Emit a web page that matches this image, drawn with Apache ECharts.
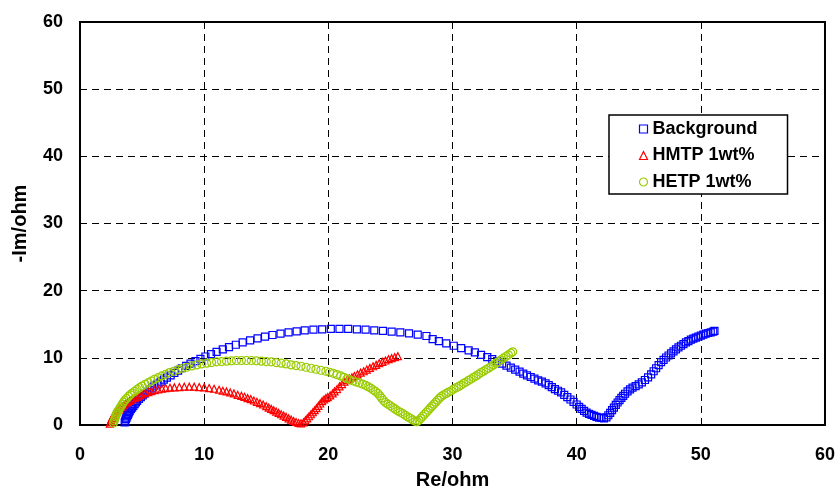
<!DOCTYPE html>
<html>
<head>
<meta charset="utf-8">
<script src="https://cdn.jsdelivr.net/npm/echarts@6/dist/echarts.min.js"></script>
<style>
  html, body { margin: 0; padding: 0; background: #fff; }
  #chart { width: 838px; height: 499px; }
</style>
</head>
<body>
<div id="chart"></div>
<script>
// Nyquist points, [Re, -Im] in ohm
var backgroundPoints = [
  [3.6, 0.4], [3.65, 0.65], [3.7, 0.9], [3.75, 1.1], [3.8, 1.3], [3.85, 1.5], [3.9, 1.7], [3.95, 1.9], [4.0, 2.1], [4.1, 2.35],
  [4.2, 2.6], [4.3, 2.85], [4.4, 3.1], [4.5, 3.35], [4.6, 3.6], [4.75, 3.9], [4.9, 4.15], [5.05, 4.4], [5.2, 4.65], [5.4, 4.95],
  [5.6, 5.25], [5.8, 5.55], [6.0, 5.85], [6.25, 6.15], [6.5, 6.45], [6.75, 6.75], [7.0, 7.05], [7.3, 7.4], [7.6, 7.75], [7.9, 8.1],
  [8.2, 8.45], [8.55, 8.8], [8.9, 9.15], [9.3, 9.5], [9.7, 9.85], [10.1, 10.2], [10.55, 10.55], [11.0, 10.9], [11.5, 11.25], [12.0, 11.6],
  [12.55, 11.95], [13.1, 12.3], [13.7, 12.6], [14.3, 12.9], [14.9, 13.15], [15.5, 13.4], [16.15, 13.6], [16.8, 13.8], [17.45, 13.95], [18.1, 14.1],
  [18.8, 14.2], [19.5, 14.25], [20.2, 14.3], [20.9, 14.3], [21.6, 14.3], [22.3, 14.25], [23.0, 14.2], [23.7, 14.1], [24.4, 14.0], [25.1, 13.9],
  [25.8, 13.8], [26.5, 13.65], [27.2, 13.45], [27.9, 13.25], [28.4, 12.8], [28.9, 12.5], [29.5, 12.15], [30.1, 11.8], [30.7, 11.45], [31.3, 11.1],
  [31.8, 10.8], [32.3, 10.45], [32.8, 10.1], [33.2, 9.8], [33.6, 9.5], [34.0, 9.15], [34.35, 8.85], [34.7, 8.55], [35.05, 8.25], [35.4, 7.95],
  [35.7, 7.65], [36.0, 7.4], [36.3, 7.15], [36.6, 6.9], [36.9, 6.65], [37.2, 6.45], [37.5, 6.2], [37.75, 5.95], [38.0, 5.65], [38.25, 5.35],
  [38.5, 5.1], [38.75, 4.85], [39.0, 4.5], [39.25, 4.15], [39.5, 3.8], [39.75, 3.45], [40.0, 3.05], [40.2, 2.7], [40.4, 2.4], [40.6, 2.1],
  [40.8, 1.85], [41.0, 1.65], [41.2, 1.5], [41.4, 1.35], [41.6, 1.2], [41.8, 1.1], [42.0, 1.05], [42.2, 1.0], [42.4, 1.15], [42.55, 1.45],
  [42.7, 1.8], [42.85, 2.2], [43.0, 2.6], [43.15, 3.0], [43.3, 3.35], [43.45, 3.7], [43.6, 4.05], [43.75, 4.35], [43.9, 4.65], [44.1, 5.0],
  [44.3, 5.3], [44.5, 5.55], [44.75, 5.8], [45.0, 6.05], [45.25, 6.35], [45.5, 6.7], [45.75, 7.1], [46.0, 7.55], [46.2, 8.0], [46.4, 8.45],
  [46.6, 8.9], [46.8, 9.35], [47.0, 9.7], [47.2, 10.05], [47.4, 10.35], [47.6, 10.65], [47.8, 10.95], [48.0, 11.25], [48.2, 11.55], [48.4, 11.8],
  [48.6, 12.05], [48.8, 12.3], [49.0, 12.5], [49.2, 12.7], [49.4, 12.85], [49.6, 13.0], [49.8, 13.15], [50.0, 13.3], [50.2, 13.45], [50.4, 13.6],
  [50.6, 13.7], [50.8, 13.8], [51.0, 13.9], [51.1, 14.0]
];

var hmtpPoints = [
  [2.4, 0.2], [2.45, 0.45], [2.5, 0.7], [2.55, 0.9], [2.6, 1.1], [2.7, 1.35], [2.8, 1.6], [2.9, 1.85], [3.0, 2.05], [3.1, 2.25],
  [3.25, 2.5], [3.4, 2.75], [3.55, 2.95], [3.7, 3.2], [3.85, 3.4], [4.0, 3.6], [4.2, 3.8], [4.4, 4.0], [4.6, 4.2], [4.8, 4.4],
  [5.0, 4.55], [5.25, 4.75], [5.5, 4.9], [5.75, 5.05], [6.0, 5.2], [6.3, 5.3], [6.6, 5.4], [6.9, 5.5], [7.25, 5.55], [7.6, 5.6],
  [8.0, 5.65], [8.4, 5.7], [8.8, 5.7], [9.2, 5.7], [9.6, 5.65], [10.0, 5.6], [10.4, 5.5], [10.8, 5.4], [11.2, 5.25], [11.5, 5.1],
  [11.8, 5.0], [12.1, 4.85], [12.4, 4.7], [12.7, 4.5], [13.0, 4.35], [13.25, 4.2], [13.5, 4.0], [13.75, 3.85], [14.0, 3.65], [14.25, 3.45],
  [14.5, 3.25], [14.75, 3.05], [15.0, 2.8], [15.2, 2.6], [15.4, 2.4], [15.6, 2.2], [15.8, 2.0], [16.0, 1.8], [16.2, 1.6], [16.4, 1.4],
  [16.6, 1.2], [16.8, 1.0], [17.0, 0.8], [17.2, 0.6], [17.4, 0.45], [17.6, 0.3], [17.8, 0.25], [18.0, 0.4], [18.15, 0.7], [18.3, 1.0],
  [18.45, 1.3], [18.6, 1.6], [18.75, 1.9], [18.9, 2.2], [19.05, 2.5], [19.2, 2.85], [19.35, 3.2], [19.5, 3.55], [19.65, 3.8], [19.8, 4.0],
  [19.95, 4.15], [20.15, 4.4], [20.35, 4.7], [20.5, 5.0], [20.7, 5.35], [20.9, 5.75], [21.1, 6.1], [21.3, 6.45], [21.5, 6.7], [21.7, 6.9],
  [21.9, 7.1], [22.1, 7.3], [22.35, 7.55], [22.6, 7.8], [22.85, 8.0], [23.1, 8.25], [23.35, 8.5], [23.6, 8.75], [23.85, 8.95], [24.1, 9.2],
  [24.35, 9.4], [24.6, 9.6], [24.85, 9.8], [25.1, 9.95], [25.35, 10.1], [25.6, 10.25]
];

var hetpPoints = [
  [2.7, 0.3], [2.75, 0.6], [2.8, 0.9], [2.85, 1.2], [2.9, 1.45], [2.95, 1.7], [3.0, 1.95], [3.1, 2.2], [3.2, 2.5], [3.3, 2.8],
  [3.4, 3.1], [3.5, 3.4], [3.6, 3.65], [3.75, 3.95], [3.9, 4.25], [4.05, 4.5], [4.2, 4.75], [4.4, 5.0], [4.6, 5.3], [4.8, 5.55],
  [5.0, 5.8], [5.25, 6.05], [5.5, 6.3], [5.75, 6.55], [6.0, 6.8], [6.3, 7.05], [6.6, 7.3], [6.9, 7.55], [7.2, 7.8], [7.55, 8.0],
  [7.9, 8.25], [8.25, 8.45], [8.6, 8.6], [9.0, 8.8], [9.4, 8.95], [9.8, 9.1], [10.2, 9.2], [10.6, 9.3], [11.0, 9.4], [11.4, 9.45],
  [11.8, 9.5], [12.2, 9.55], [12.6, 9.6], [13.0, 9.6], [13.4, 9.6], [13.8, 9.6], [14.2, 9.55], [14.6, 9.5], [15.0, 9.45], [15.4, 9.4],
  [15.8, 9.3], [16.2, 9.2], [16.6, 9.1], [17.0, 8.95], [17.4, 8.85], [17.8, 8.75], [18.2, 8.6], [18.6, 8.45], [19.0, 8.3], [19.4, 8.15],
  [19.8, 8.0], [20.1, 7.85], [20.4, 7.7], [20.7, 7.5], [21.0, 7.3], [21.25, 7.1], [21.5, 6.9], [21.75, 6.7], [22.0, 6.55], [22.25, 6.4],
  [22.5, 6.25], [22.75, 6.1], [23.0, 5.9], [23.2, 5.7], [23.4, 5.5], [23.6, 5.25], [23.8, 5.0], [24.0, 4.7], [24.15, 4.35], [24.3, 4.0],
  [24.45, 3.65], [24.6, 3.35], [24.8, 3.1], [25.0, 2.85], [25.2, 2.6], [25.4, 2.35], [25.6, 2.1], [25.8, 1.9], [26.0, 1.7], [26.2, 1.45],
  [26.4, 1.2], [26.6, 1.0], [26.8, 0.75], [27.0, 0.55], [27.15, 0.5], [27.3, 0.7], [27.45, 1.0], [27.6, 1.3], [27.75, 1.6], [27.9, 1.9],
  [28.05, 2.2], [28.2, 2.5], [28.35, 2.8], [28.5, 3.1], [28.65, 3.4], [28.8, 3.7], [28.95, 4.0], [29.1, 4.25], [29.3, 4.5], [29.5, 4.7],
  [29.7, 4.9], [29.9, 5.1], [30.1, 5.35], [30.3, 5.55], [30.5, 5.75], [30.7, 5.95], [30.9, 6.2], [31.1, 6.4], [31.3, 6.65], [31.5, 6.85],
  [31.7, 7.1], [31.9, 7.3], [32.1, 7.55], [32.3, 7.8], [32.5, 8.0], [32.7, 8.25], [32.9, 8.45], [33.1, 8.7], [33.3, 8.95], [33.5, 9.2],
  [33.7, 9.45], [33.9, 9.7], [34.1, 9.95], [34.3, 10.2], [34.5, 10.45], [34.7, 10.7], [34.85, 10.9]
];

var seriesNames = ['Background', 'HMTP 1wt%', 'HETP 1wt%'];
var seriesColors = ['#0000ff', '#ff0000', '#99cc00'];
var seriesSymbols = ['rect', 'triangle', 'circle'];
var seriesPoints = [backgroundPoints, hmtpPoints, hetpPoints];

var fontName = '"Liberation Sans", Arial, sans-serif';

var series = [];
var legendData = [];
for (var k = 0; k < seriesNames.length; k++) {
  series.push({
    name: seriesNames[k],
    type: 'scatter',
    data: seriesPoints[k],
    symbol: seriesSymbols[k],
    symbolSize: k == 2 ? 8 : 7,
    itemStyle: { color: 'none', borderColor: seriesColors[k], borderWidth: 1.2, opacity: 1 },
    emphasis: { disabled: true },
    z: 2 + k
  });
  legendData.push({
    name: seriesNames[k],
    icon: seriesSymbols[k],
    itemStyle: { color: 'none', borderColor: seriesColors[k], borderWidth: 1.2 }
  });
}

function axisCommon(name) {
  return {
    type: 'value',
    min: 0,
    max: 60,
    interval: 10,
    name: name,
    nameLocation: 'middle',
    nameTextStyle: { fontFamily: fontName, fontWeight: 'bold', fontSize: 20, color: '#000' },
    axisLine: { show: true, onZero: false, lineStyle: { color: '#000', width: 2 } },
    axisTick: { show: false },
    axisLabel: { fontFamily: fontName, fontWeight: 'bold', fontSize: 18, color: '#000' },
    splitLine: { show: true, lineStyle: { color: '#000', width: 1, type: [7, 5] } }
  };
}

var xAxis = axisCommon('Re/ohm');
xAxis.nameGap = 45;
xAxis.axisLabel.margin = 21;
var yAxis = axisCommon('-Im/ohm');
yAxis.nameGap = 50;
yAxis.axisLabel.margin = 17;

var chart = echarts.init(document.getElementById('chart'), null, { renderer: 'canvas' });
chart.setOption({
  animation: false,
  backgroundColor: '#fff',
  grid: {
    left: 80, right: 11, top: 22, bottom: 74,
    show: true, borderColor: '#000', borderWidth: 2, backgroundColor: 'transparent'
  },
  legend: {
    data: legendData,
    orient: 'vertical',
    left: 609,
    top: 115,
    itemWidth: 8,
    itemHeight: 8,
    itemGap: 8.5,
    padding: [5, 30, 3, 28],
    backgroundColor: '#fff',
    borderColor: '#000',
    borderWidth: 1.5,
    borderRadius: 0,
    textStyle: { fontFamily: fontName, fontWeight: 'bold', fontSize: 18, color: '#000' }
  },
  xAxis: xAxis,
  yAxis: yAxis,
  series: series
});
</script>
</body>
</html>
